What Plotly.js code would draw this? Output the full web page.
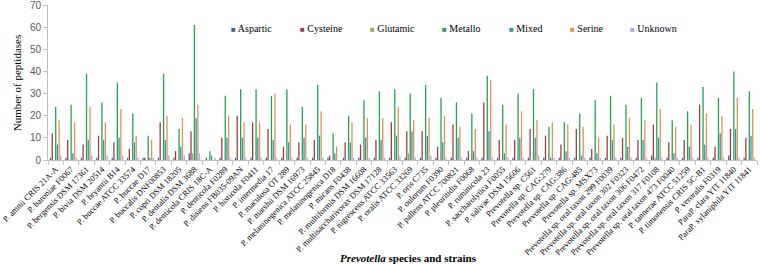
<!DOCTYPE html>
<html><head><meta charset="utf-8">
<script src="https://cdn.plot.ly/plotly-3.0.1.min.js"></script>
<style>html,body{margin:0;padding:0;background:#fff}#chart{width:760px;height:265px}</style>
</head><body><div id="chart"></div>
<script>
const strains = ["P. amnii CRIS 21A-A","P. baroniae F0067","P. bergensis DSM 17361","P. bivia DSM 20514","P. bryantii B14","P. buccae ATCC 33574","P. buccae D17","P. buccalis DNF00853","P. copri DSM 18205","P. dentalis DSM 3688","P. denticola CRIS 18C-A","P. denticola F0289","P. disiens FB035-09AN","P. histicola F0411","P. intermedia 17","P. maculosa OT 289","P. marshii DSM 16973","P. melaninogenica ATCC 25845","P. melaninogenica D18","P. micans F0438","P. multiformis DSM 16608","P. multisaccharivorax DSM 17128","P. nigrescens ATCC 33563","P. oralis ATCC 33269","P. oris C735","P. oulorum F0390","P. pallens ATCC 700821","P. pleuritidis F0068","P. ruminicola 23","P. saccharolytica F0055","P. salivae DSM 15606","Prevotella sp. C561","Prevotella sp. CAG:279","Prevotella sp. CAG:386","Prevotella sp. CAG:485","Prevotella sp. MSX73","Prevotella sp. oral taxon 299 F0039","Prevotella sp. oral taxon 302 F0323","Prevotella sp. oral taxon 306 F0472","Prevotella sp. oral taxon 317 F0108","Prevotella sp. oral taxon 473 F0040","P. tannerae ATCC 51259","P. timonensis CRIS 5C-B1","P. veroralis F0319","ParaP. clara YIT 11840","ParaP. xylaniphila YIT 11841"];

const aspartic  = [1,1,1,1,1,1,1,1,1,3,0,1,1,1,1,1,1,1,1,1,1,1,1,1,1,1,1,1,1,1,1,1,1,1,1,1,1,1,1,2,1,1,1,1,2,1];
const cysteine  = [12,9,7,11,8,5,1,17,4,13,1,10,20,17,14,6,8,9,2,8,7,9,17,13,13,6,16,4,26,9,9,14,11,7,14,5,11,10,9,16,8,9,25,6,14,10];
const glutamic  = [0,0,0,0,0,0,0,0,0,3,0,0,0,0,0,0,0,0,0,0,0,0,0,3,0,0,0,0,0,0,0,0,0,0,0,0,0,0,0,1,0,0,0,0,0,0];
const metallo   = [24,25,39,26,35,21,11,39,14,61,4,29,32,32,29,32,24,34,12,20,27,31,32,30,34,28,26,21,38,25,30,32,15,17,21,27,29,25,28,35,18,22,33,28,40,31];
const mixed     = [7,3,9,9,10,8,1,9,6,19,2,10,10,10,9,8,10,11,3,8,10,9,11,13,11,8,10,4,13,3,10,10,1,4,2,3,9,6,9,10,3,6,7,12,14,11];
const serine    = [18,17,24,17,23,11,9,20,19,25,0,20,17,17,30,16,16,22,6,17,19,19,24,18,19,20,15,14,36,16,22,18,17,16,15,10,16,19,18,23,15,16,21,20,28,23];
const unknown   = [2,1,2,2,2,1,1,2,2,3,1,1,1,1,1,1,1,1,0,1,1,1,2,1,2,1,1,1,1,1,1,2,1,1,1,1,1,1,1,1,1,1,1,1,1,1];

const seriesNames  = ["Aspartic","Cysteine","Glutamic","Metallo","Mixed","Serine","Unknown"];
const seriesValues = [aspartic,cysteine,glutamic,metallo,mixed,serine,unknown];
const seriesColors = ["#3F5F98","#A5393F","#8DAE5B","#21A354","#3B8EA0","#DE9257","#A3AED6"];

const yTicks = [0,10,20,30,40,50,60,70];

const traces = seriesNames.map((n,i)=>({
  type:'bar', name:n, x:strains, y:seriesValues[i],
  marker:{color:seriesColors[i]}
}));

const serif = 'Liberation Serif, Times New Roman, serif';

// legend key entries (horizontal row inside the plot, like the reference)
const legendX = [0.2553, 0.3526, 0.4513, 0.5529, 0.6474, 0.7334, 0.8181];
const legendAnn = seriesNames.map((n,i)=>({
  xref:'paper', yref:'paper', x:legendX[i], y:0.8516, xanchor:'left', yanchor:'middle', showarrow:false,
  text:'<span style="color:'+seriesColors[i]+';font-size:8px">■</span> '+n,
  font:{family:serif,size:10,color:'#000'}
}));

const layout = {
  width:760, height:265,
  margin:{l:48,r:3,t:5,b:105},
  paper_bgcolor:'#fff', plot_bgcolor:'#fff',
  barmode:'group', bargap:0.22, bargroupgap:0.25,
  showlegend:false,
  xaxis:{type:'category', tickangle:-45, tickfont:{family:serif,size:8.5,color:'#000'},
    showline:true, linecolor:'#bfbfbf', linewidth:1, ticks:'outside', ticklen:4, tickcolor:'#bfbfbf',
    tickson:'boundaries', showgrid:false, automargin:false, fixedrange:true, ticklabeloverflow:'allow'},
  yaxis:{range:[0,70], tickvals:yTicks, ticktext:yTicks.map(String),
    tickfont:{family:'Liberation Sans, Arial, sans-serif',size:10,color:'#595959'},
    showline:true, linecolor:'#bfbfbf', linewidth:1, ticks:'outside', ticklen:4, tickcolor:'#bfbfbf',
    showgrid:false, zeroline:false, automargin:false, fixedrange:true, ticklabeloverflow:'allow'},
  annotations:[
    {xref:'paper', yref:'paper', x:-0.044, y:0.5, textangle:-90, showarrow:false,
     text:'Number of peptidases', font:{family:serif,size:11,color:'#000'}, xanchor:'center', yanchor:'middle'},
    {xref:'paper', yref:'paper', x:0.509, y:-0.632, showarrow:false, xanchor:'center', yanchor:'middle',
     text:'<b><i>Prevotella</i> species and strains</b>', font:{family:serif,size:11,color:'#000'}}
  ].concat(legendAnn)
};
Plotly.newPlot('chart', traces, layout, {displayModeBar:false, staticPlot:true});
</script></body></html>
